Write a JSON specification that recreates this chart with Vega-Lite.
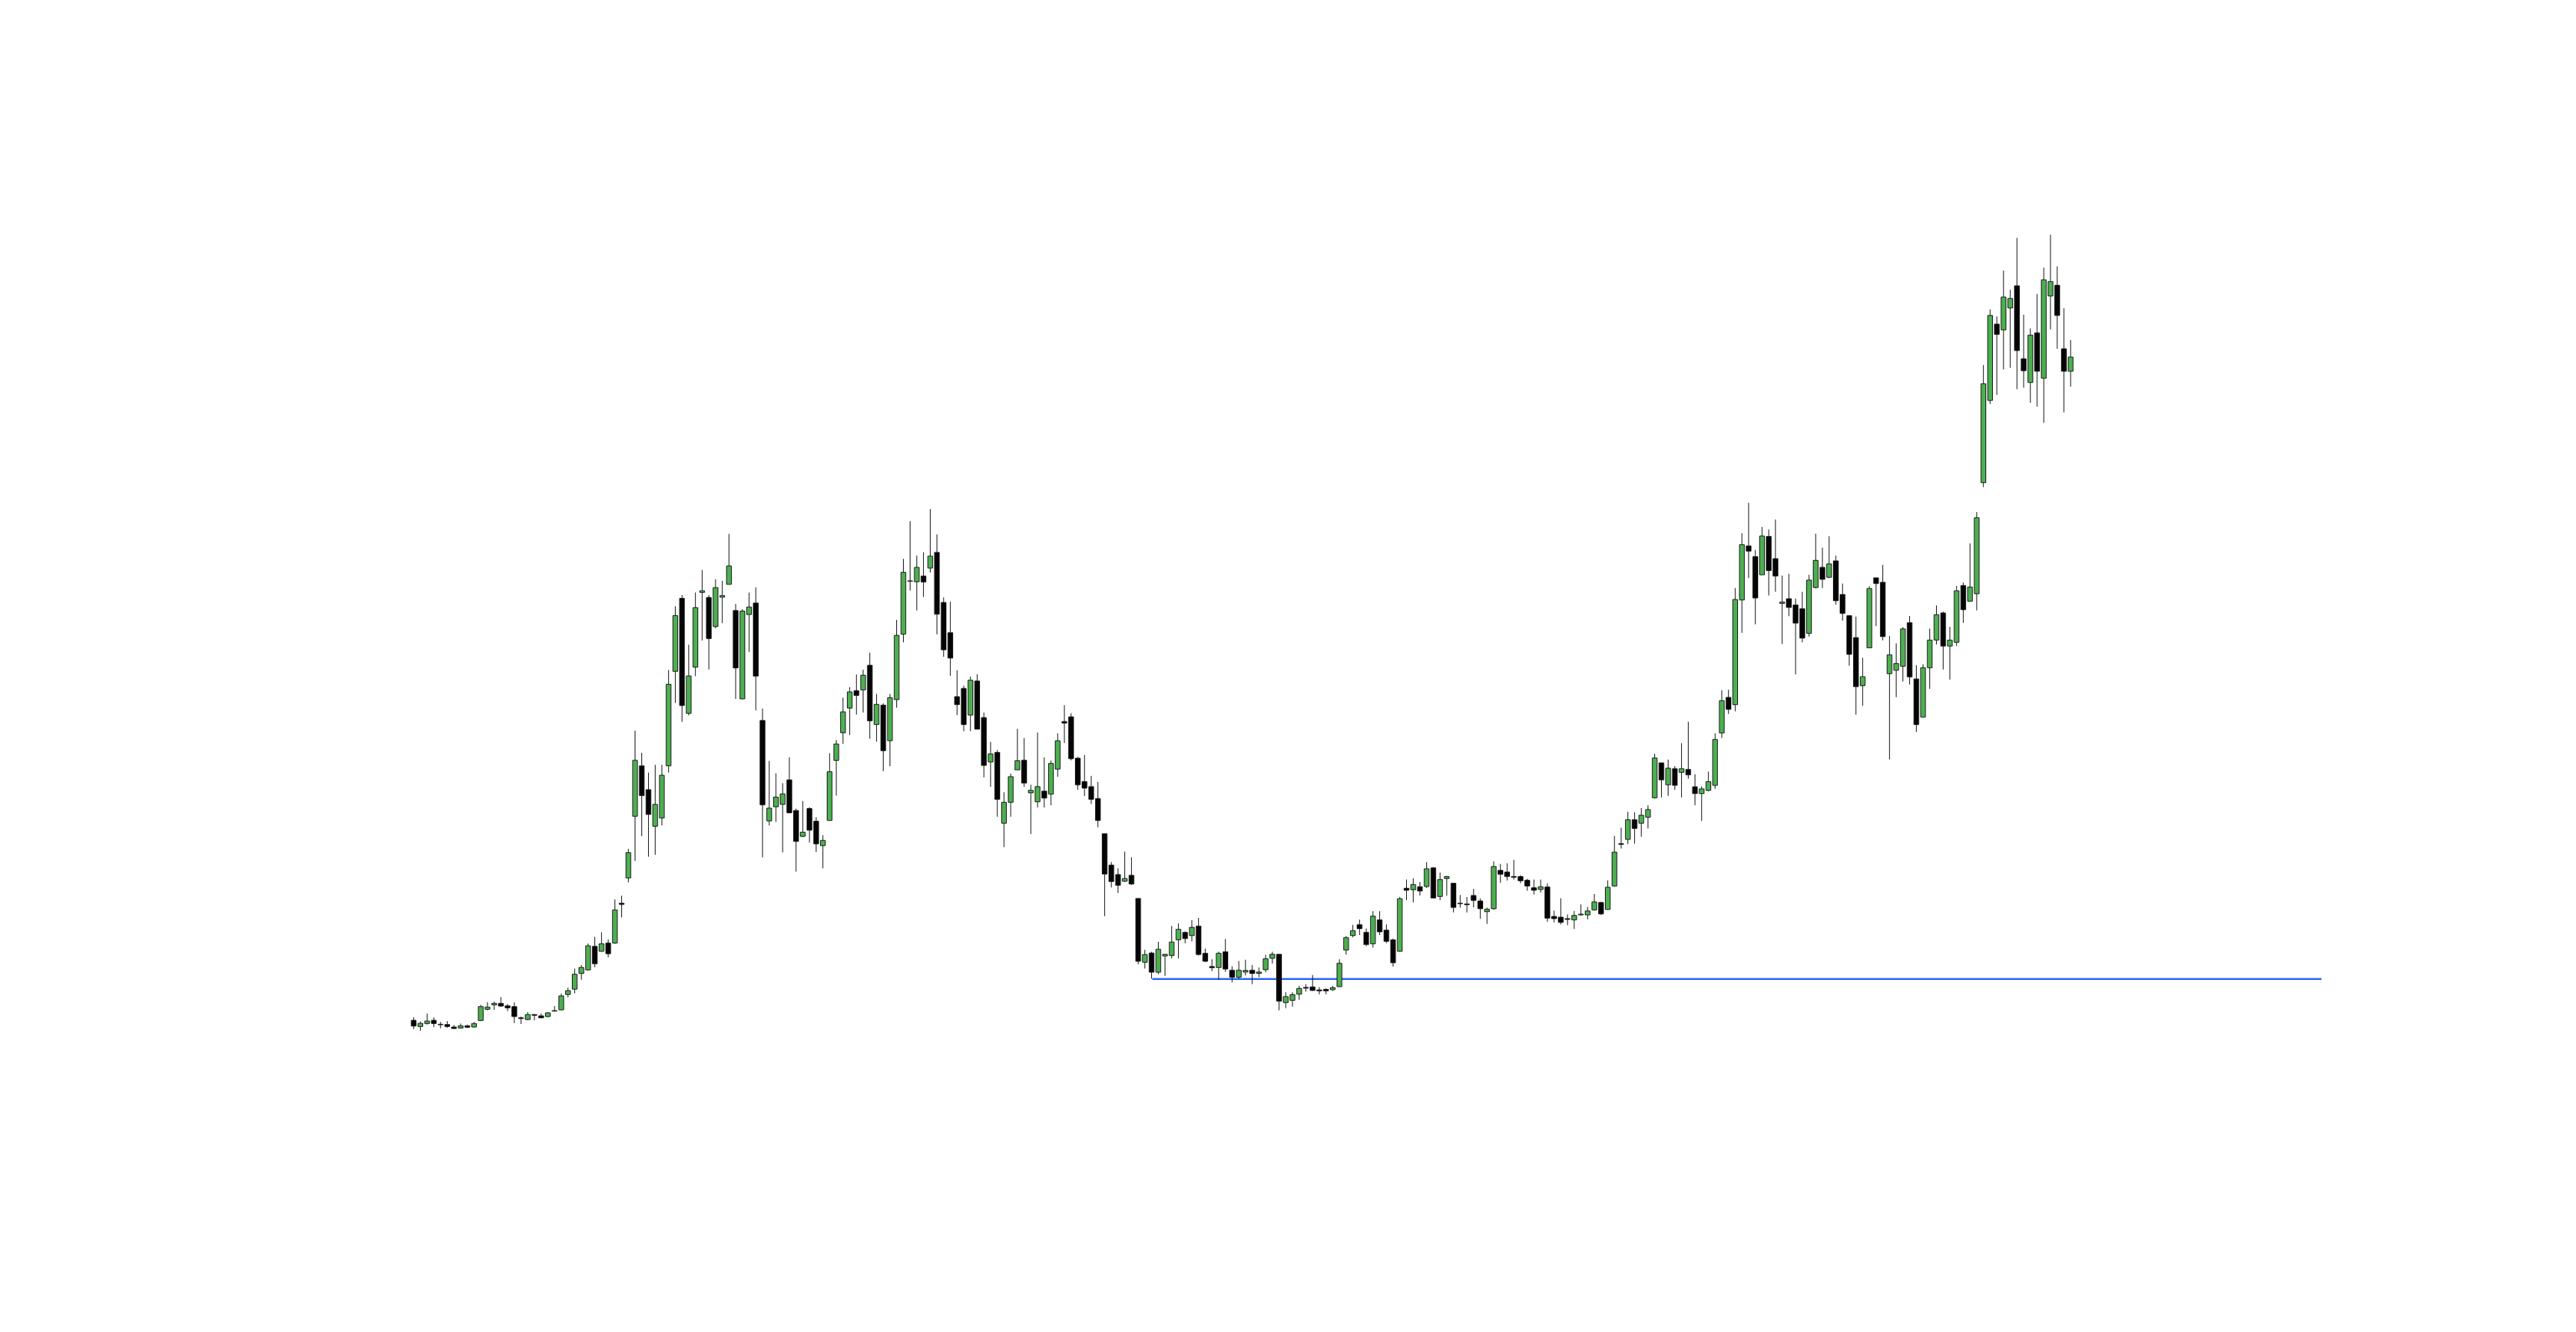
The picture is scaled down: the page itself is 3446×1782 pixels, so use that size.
{
"$schema": "https://vega.github.io/schema/vega-lite/v6.json",
"width": 3446, "height": 1782, "autosize": {"type": "none"}, "padding": 0,
"background": "white",
"config": {"view": {"stroke": null}},
"datasets": {
"candles": [
{"i":0,"o":35,"h":39,"l":23.3,"c":27.3},{"i":1,"o":26.7,"h":33.3,"l":21,"c":31},{"i":2,"o":30.7,"h":44,"l":29.3,"c":34},{"i":3,"o":35,"h":39,"l":26,"c":30.7},{"i":4,"o":29.7,"h":32.7,"l":24.3,"c":29},{"i":5,"o":29.3,"h":34,"l":25,"c":26.7},{"i":6,"o":26,"h":28.7,"l":23.3,"c":24},{"i":7,"o":24.7,"h":30.7,"l":24,"c":27.7},{"i":8,"o":27.7,"h":29,"l":24.7,"c":25.7},{"i":9,"o":26,"h":32.7,"l":25.3,"c":30.7},
{"i":10,"o":34.7,"h":55.7,"l":34,"c":53.3},{"i":11,"o":49.7,"h":59.3,"l":48.3,"c":52.7},{"i":12,"o":55.7,"h":60,"l":49,"c":57.7},{"i":13,"o":57.7,"h":66,"l":53.3,"c":54},{"i":14,"o":54.3,"h":56.7,"l":47.3,"c":51.7},{"i":15,"o":53.3,"h":59,"l":31.3,"c":40},{"i":16,"o":38.3,"h":40,"l":30,"c":37.3},{"i":17,"o":36,"h":46,"l":35,"c":42.7},{"i":18,"o":42.7,"h":43.3,"l":35,"c":41.7},{"i":19,"o":41,"h":44,"l":37.7,"c":38.3},
{"i":20,"o":40,"h":46,"l":39,"c":45},{"i":21,"o":47.3,"h":54,"l":46.7,"c":48},{"i":22,"o":49,"h":70.7,"l":48.3,"c":67.7},{"i":23,"o":69.7,"h":78.7,"l":65.7,"c":74.7},{"i":24,"o":76.7,"h":104.3,"l":71,"c":96.7},{"i":25,"o":97.7,"h":109,"l":89.3,"c":105.7},{"i":26,"o":102.3,"h":137.7,"l":101.7,"c":134.7},{"i":27,"o":134,"h":146.7,"l":106,"c":110.7},{"i":28,"o":127.3,"h":152.7,"l":126.7,"c":137.3},{"i":29,"o":138.3,"h":143.3,"l":119.3,"c":124},
{"i":30,"o":138.3,"h":196.7,"l":137.3,"c":182.7},{"i":31,"o":191.7,"h":201.7,"l":172.7,"c":190},{"i":32,"o":225.4,"h":264.3,"l":219.6,"c":259.3},{"i":33,"o":307.9,"h":422.5,"l":248.2,"c":382.9},{"i":34,"o":375.4,"h":392.9,"l":281.4,"c":335.7},{"i":35,"o":343.6,"h":366.4,"l":253.9,"c":310.4},{"i":36,"o":294.6,"h":376.8,"l":256.4,"c":323.9},{"i":37,"o":305.7,"h":376.8,"l":295.7,"c":362.9},{"i":38,"o":375.4,"h":503.6,"l":366.4,"c":484.6},{"i":39,"o":501.8,"h":588.9,"l":459.6,"c":576.4},
{"i":40,"o":599.6,"h":603.9,"l":434.3,"c":456.1},{"i":41,"o":445.7,"h":537.5,"l":442.9,"c":495.7},{"i":42,"o":507.5,"h":607.5,"l":495.4,"c":587.1},{"i":43,"o":607.5,"h":637.5,"l":543.2,"c":609.6},{"i":44,"o":600.7,"h":603.9,"l":504.3,"c":545.7},{"i":45,"o":561.8,"h":625,"l":559.3,"c":613.9},{"i":46,"o":601.1,"h":622.9,"l":566.4,"c":603.2},{"i":47,"o":618.2,"h":685.7,"l":618.2,"c":642.9},{"i":48,"o":583.2,"h":592.1,"l":465,"c":506.4},{"i":49,"o":465,"h":585,"l":465,"c":582.5},
{"i":50,"o":577.9,"h":607.1,"l":527.9,"c":587.9},{"i":51,"o":593.2,"h":614.3,"l":449.6,"c":495.4},{"i":52,"o":436.1,"h":452.1,"l":252.9,"c":323.2},{"i":53,"o":301.8,"h":382.1,"l":295.7,"c":318.9},{"i":54,"o":320.7,"h":365.4,"l":300.4,"c":333.6},{"i":55,"o":323.9,"h":352.1,"l":259.6,"c":337.9},{"i":56,"o":356.7,"h":386.7,"l":311.7,"c":312.7},{"i":57,"o":315.7,"h":318.3,"l":234,"c":274.3},{"i":58,"o":281,"h":328.3,"l":280,"c":286.7},{"i":59,"o":318.3,"h":320,"l":272.7,"c":289.3},
{"i":60,"o":301.3,"h":306.7,"l":260,"c":271},{"i":61,"o":268.7,"h":282.7,"l":238.3,"c":275.7},{"i":62,"o":302.3,"h":392.3,"l":302.3,"c":367.7},{"i":63,"o":382.7,"h":410,"l":335.7,"c":404.7},{"i":64,"o":419.7,"h":466.7,"l":404.7,"c":447.7},{"i":65,"o":452.7,"h":480.7,"l":416.7,"c":474.3},{"i":66,"o":476,"h":497.7,"l":444,"c":469.7},{"i":67,"o":477,"h":504,"l":446.7,"c":496.7},{"i":68,"o":510,"h":526.7,"l":411.7,"c":435.7},{"i":69,"o":430.7,"h":471.7,"l":407.7,"c":457.7},
{"i":70,"o":456.7,"h":459,"l":368.3,"c":395.7},{"i":71,"o":409,"h":471.7,"l":375,"c":466.7},{"i":72,"o":464,"h":570.7,"l":453.3,"c":550},{"i":73,"o":551.7,"h":652.3,"l":540.7,"c":634.3},{"i":74,"o":622.3,"h":702.7,"l":610,"c":623},{"i":75,"o":621.7,"h":656.7,"l":583.3,"c":641},{"i":76,"o":629.3,"h":661.3,"l":601.3,"c":621.3},{"i":77,"o":640,"h":719,"l":634,"c":656},{"i":78,"o":661,"h":685,"l":551.3,"c":578.3},{"i":79,"o":594,"h":600.7,"l":521.3,"c":530.7},
{"i":80,"o":553.7,"h":595,"l":496,"c":519.7},{"i":81,"o":468,"h":503.3,"l":443.3,"c":457.3},{"i":82,"o":479,"h":482.7,"l":421.7,"c":430.7},{"i":83,"o":443.3,"h":495,"l":421.7,"c":490},{"i":84,"o":489,"h":498,"l":424,"c":424.5},{"i":85,"o":440,"h":446.7,"l":360,"c":376},{"i":86,"o":380.7,"h":407.3,"l":347.3,"c":391.3},{"i":87,"o":393.3,"h":396.7,"l":307.3,"c":330.7},{"i":88,"o":298.7,"h":340,"l":266.7,"c":326.7},{"i":89,"o":326.7,"h":365,"l":307.3,"c":361},
{"i":90,"o":370,"h":425,"l":370,"c":382.3},{"i":91,"o":383,"h":412.7,"l":347.3,"c":352.3},{"i":92,"o":339.3,"h":350.3,"l":284.3,"c":342.7},{"i":93,"o":327.3,"h":420,"l":319.7,"c":347.7},{"i":94,"o":341.7,"h":386.7,"l":319.7,"c":332.3},{"i":95,"o":337.7,"h":382.7,"l":322.7,"c":378.7},{"i":96,"o":371,"h":419,"l":360.7,"c":409},{"i":97,"o":434.7,"h":456.7,"l":406,"c":432.7},{"i":98,"o":441,"h":445.7,"l":382.7,"c":385},{"i":99,"o":385.7,"h":387.3,"l":343.3,"c":350},
{"i":100,"o":354.3,"h":390,"l":335,"c":345.7},{"i":101,"o":347.7,"h":362,"l":324.3,"c":330.7},{"i":102,"o":331.7,"h":354,"l":293.3,"c":302.3},{"i":103,"o":284.7,"h":284.7,"l":174.3,"c":230.7},{"i":104,"o":242.7,"h":246.7,"l":212.7,"c":220.7},{"i":105,"o":230,"h":238.3,"l":205.3,"c":215.7},{"i":106,"o":221,"h":260.7,"l":220,"c":224.7},{"i":107,"o":229,"h":253,"l":216,"c":217.3},{"i":108,"o":198,"h":198,"l":110,"c":114},{"i":109,"o":112.7,"h":129.3,"l":104.3,"c":123},
{"i":110,"o":125,"h":126.7,"l":90.7,"c":99.3},{"i":111,"o":99.3,"h":140,"l":96.7,"c":130},{"i":112,"o":121,"h":123.3,"l":94.3,"c":123.3},{"i":113,"o":121.7,"h":161.3,"l":117.7,"c":139.7},{"i":114,"o":142.7,"h":164.7,"l":117.7,"c":156.7},{"i":115,"o":152.7,"h":154,"l":138,"c":144.3},{"i":116,"o":148.3,"h":169,"l":140.7,"c":159.3},{"i":117,"o":161,"h":172,"l":121.7,"c":123},{"i":118,"o":124.7,"h":131,"l":112.7,"c":114},{"i":119,"o":107,"h":116.7,"l":100.7,"c":105.3},
{"i":120,"o":105.7,"h":126.7,"l":89.3,"c":124.7},{"i":121,"o":126.7,"h":143.7,"l":100,"c":103.7},{"i":122,"o":102,"h":107.3,"l":85.7,"c":92.7},{"i":123,"o":92.7,"h":114.3,"l":90.7,"c":102},{"i":124,"o":99.7,"h":116,"l":95,"c":101.7},{"i":125,"o":102,"h":109,"l":83.3,"c":97.7},{"i":126,"o":97.7,"h":105.7,"l":92.7,"c":99.7},{"i":127,"o":102.7,"h":122.7,"l":99.3,"c":117.3},{"i":128,"o":118,"h":126.7,"l":111,"c":123.3},{"i":129,"o":123.3,"h":123.3,"l":48.3,"c":60.7},
{"i":130,"o":58.7,"h":72.7,"l":51.3,"c":66.7},{"i":131,"o":61.7,"h":72.7,"l":53.3,"c":69.3},{"i":132,"o":70,"h":81,"l":62.3,"c":77.7},{"i":133,"o":79,"h":83.3,"l":73.3,"c":78},{"i":134,"o":79.7,"h":95.7,"l":74.3,"c":75},{"i":135,"o":75.7,"h":79.3,"l":69.7,"c":74.3},{"i":136,"o":76.3,"h":77.7,"l":69.7,"c":74.3},{"i":137,"o":76,"h":81,"l":74.3,"c":78.7},{"i":138,"o":80,"h":116.7,"l":80,"c":111.3},{"i":139,"o":129,"h":147.7,"l":122.7,"c":145.7},
{"i":140,"o":148.3,"h":162.7,"l":146,"c":155},{"i":141,"o":163,"h":169.7,"l":149,"c":157.7},{"i":142,"o":152.7,"h":157.7,"l":134.3,"c":136.3},{"i":143,"o":137.3,"h":181,"l":132.3,"c":174.3},{"i":144,"o":169.3,"h":181,"l":149,"c":153.3},{"i":145,"o":155.7,"h":163.3,"l":138.3,"c":140.7},{"i":146,"o":142.7,"h":144.3,"l":106.7,"c":112},{"i":147,"o":127.3,"h":200,"l":126.7,"c":197.7},{"i":148,"o":211.7,"h":223.3,"l":195.7,"c":209},{"i":149,"o":209.7,"h":225,"l":192.7,"c":216.7},
{"i":150,"o":213.7,"h":220,"l":202,"c":208},{"i":151,"o":214,"h":246.7,"l":212,"c":237.7},{"i":152,"o":239,"h":240,"l":198,"c":198.7},{"i":153,"o":200.7,"h":232.7,"l":195.7,"c":223.3},{"i":154,"o":224.7,"h":228.3,"l":201.7,"c":227.3},{"i":155,"o":218.3,"h":218.3,"l":179.3,"c":186},{"i":156,"o":191.7,"h":202.7,"l":185.7,"c":191},{"i":157,"o":190.7,"h":200,"l":179.3,"c":189.7},{"i":158,"o":202,"h":210.7,"l":186,"c":195.3},{"i":159,"o":194.7,"h":198,"l":170.7,"c":184.3},
{"i":160,"o":180.3,"h":185.7,"l":164,"c":183.7},{"i":161,"o":184.3,"h":247.7,"l":182.7,"c":240.7},{"i":162,"o":235.7,"h":244.3,"l":219,"c":230.3},{"i":163,"o":233.3,"h":245,"l":222,"c":227.3},{"i":164,"o":227.3,"h":249.7,"l":223.3,"c":226.3},{"i":165,"o":227.3,"h":229,"l":218.3,"c":221.7},{"i":166,"o":222.3,"h":224.3,"l":208.3,"c":214.7},{"i":167,"o":212.3,"h":223.3,"l":203.3,"c":209},{"i":168,"o":210,"h":223.3,"l":205.7,"c":213.7},{"i":169,"o":213.3,"h":218.3,"l":166.7,"c":171.7},
{"i":170,"o":174,"h":181.7,"l":166,"c":171},{"i":171,"o":173,"h":198.3,"l":163.3,"c":166},{"i":172,"o":171,"h":176.7,"l":162.3,"c":170},{"i":173,"o":169.3,"h":181.3,"l":157.3,"c":175.3},{"i":174,"o":176,"h":190,"l":175,"c":177},{"i":175,"o":176,"h":186.7,"l":170,"c":181.3},{"i":176,"o":182.7,"h":204,"l":181.7,"c":193.3},{"i":177,"o":192.7,"h":193.3,"l":176,"c":177.3},{"i":178,"o":183.3,"h":222.3,"l":182.7,"c":213},{"i":179,"o":214.7,"h":281.7,"l":214,"c":260},
{"i":180,"o":271.3,"h":292.7,"l":264.7,"c":270.3},{"i":181,"o":277,"h":314,"l":270.7,"c":303.3},{"i":182,"o":303.3,"h":313.3,"l":271.3,"c":291.7},{"i":183,"o":298.7,"h":319,"l":280.7,"c":309.3},{"i":184,"o":306.7,"h":322.7,"l":291.7,"c":317},{"i":185,"o":332.7,"h":391.7,"l":331.7,"c":386},{"i":186,"o":379.3,"h":379.3,"l":333.3,"c":356.7},{"i":187,"o":350,"h":383.7,"l":335.3,"c":372.3},{"i":188,"o":371.7,"h":375,"l":343.3,"c":349.3},{"i":189,"o":366.7,"h":405.7,"l":333.3,"c":371.7},
{"i":190,"o":370.7,"h":434.3,"l":358.3,"c":363.3},{"i":191,"o":347.3,"h":364,"l":322.7,"c":338.3},{"i":192,"o":338.3,"h":348,"l":301.7,"c":344.7},{"i":193,"o":342.7,"h":367.7,"l":341.3,"c":354.3},{"i":194,"o":349.3,"h":419,"l":344.7,"c":410.7},{"i":195,"o":419.3,"h":476.7,"l":412.7,"c":462.7},{"i":196,"o":467,"h":477.3,"l":445,"c":451},{"i":197,"o":457.3,"h":613.3,"l":448.3,"c":598},{"i":198,"o":597.3,"h":686.7,"l":553.3,"c":671.3},{"i":199,"o":669.7,"h":727.3,"l":626.7,"c":662.7},
{"i":200,"o":655.3,"h":664.3,"l":564.7,"c":600},{"i":201,"o":631,"h":695,"l":631,"c":683},{"i":202,"o":682.3,"h":691.7,"l":603.3,"c":636.7},{"i":203,"o":652.7,"h":705,"l":608.3,"c":629.3},{"i":204,"o":592.7,"h":630,"l":538.3,"c":594.7},{"i":205,"o":599,"h":632.3,"l":575.7,"c":587.3},{"i":206,"o":590.7,"h":599.3,"l":497.7,"c":566.3},{"i":207,"o":585.7,"h":608.3,"l":540.7,"c":546.3},{"i":208,"o":552.7,"h":631,"l":548.3,"c":624},{"i":209,"o":614,"h":686,"l":612.7,"c":650.3},
{"i":210,"o":641,"h":667.3,"l":613.3,"c":625},{"i":211,"o":627.7,"h":682.7,"l":626.7,"c":645.7},{"i":212,"o":649.7,"h":656.7,"l":591,"c":596.3},{"i":213,"o":604.7,"h":619.3,"l":569.7,"c":579.3},{"i":214,"o":576.3,"h":576.7,"l":509.3,"c":524.7},{"i":215,"o":547,"h":575,"l":444,"c":481.3},{"i":216,"o":482.7,"h":520,"l":455.7,"c":494.7},{"i":217,"o":533.3,"h":615.7,"l":533.3,"c":612.7},{"i":218,"o":627,"h":627,"l":562.3,"c":619.3},{"i":219,"o":621,"h":644.3,"l":543.3,"c":548.3},
{"i":220,"o":498.7,"h":549,"l":384,"c":524},{"i":221,"o":503.3,"h":539.3,"l":467.3,"c":512.3},{"i":222,"o":508.7,"h":561,"l":488.3,"c":558.7},{"i":223,"o":567,"h":576,"l":484.3,"c":494.3},{"i":224,"o":491.7,"h":510,"l":420.7,"c":430.7},{"i":225,"o":440.7,"h":511.3,"l":440.7,"c":506.7},{"i":226,"o":506.7,"h":559,"l":478.3,"c":543.7},{"i":227,"o":543.7,"h":590,"l":537.7,"c":577.7},{"i":228,"o":580,"h":581.7,"l":504.3,"c":535.7},{"i":229,"o":535.7,"h":561.3,"l":490.7,"c":543.7},
{"i":230,"o":540.7,"h":616,"l":535.7,"c":609.7},{"i":231,"o":616.7,"h":620.7,"l":566.7,"c":584.3},{"i":232,"o":595.7,"h":673,"l":595.7,"c":614.7},{"i":233,"o":605.7,"h":715,"l":583.3,"c":707.3},{"i":234,"o":754.3,"h":911.7,"l":748.3,"c":886.7},{"i":235,"o":864.3,"h":986,"l":859.7,"c":978},{"i":236,"o":966.3,"h":976.7,"l":871.7,"c":952.7},{"i":237,"o":958.7,"h":1038,"l":905.7,"c":1002.7},{"i":238,"o":988,"h":1012.3,"l":908,"c":1000.7},{"i":239,"o":1017.7,"h":1081.7,"l":879.3,"c":931},
{"i":240,"o":920,"h":979,"l":881.3,"c":904},{"i":241,"o":888.3,"h":960.7,"l":861,"c":951.7},{"i":242,"o":954.7,"h":1006.7,"l":856,"c":903.3},{"i":243,"o":894,"h":1042,"l":834.3,"c":1025.7},{"i":244,"o":1004,"h":1086,"l":959.3,"c":1023.3},{"i":245,"o":1018.3,"h":1043.7,"l":933.3,"c":978},{"i":246,"o":933.3,"h":987.7,"l":848.3,"c":903.3},{"i":247,"o":903.3,"h":945,"l":882.7,"c":922.3}
],
"level": [{"start": 110.1, "end": 284.4, "price": 90.3}]
},
"layer": [
{
"data": {"name": "level"},
"mark": {"type": "rule", "color": "#2962FF", "strokeWidth": 2.5},
"encoding": {
"x": {"field": "start", "type": "quantitative", "scale": {"domain": [-61.11, 321.78], "nice": false, "zero": false}, "axis": null},
"x2": {"field": "end"},
"y": {"field": "price", "type": "quantitative", "scale": {"domain": [-382, 1400], "nice": false, "zero": false}, "axis": null}
}
},
{
"data": {"name": "candles"},
"mark": {"type": "rule", "color": "#111111", "strokeWidth": 1},
"encoding": {
"x": {"field": "i", "type": "quantitative", "scale": {"domain": [-61.11, 321.78], "nice": false, "zero": false}, "axis": null},
"y": {"field": "l", "type": "quantitative", "scale": {"domain": [-382, 1400], "nice": false, "zero": false}, "axis": null},
"y2": {"field": "h"}
}
},
{
"data": {"name": "candles"},
"mark": {"type": "bar", "width": 6.5, "stroke": "#1a1a1a", "strokeWidth": 1},
"encoding": {
"x": {"field": "i", "type": "quantitative", "scale": {"domain": [-61.11, 321.78], "nice": false, "zero": false}, "axis": null},
"y": {"field": "o", "type": "quantitative", "scale": {"domain": [-382, 1400], "nice": false, "zero": false}, "axis": null},
"y2": {"field": "c"},
"fill": {"condition": {"test": "datum.c >= datum.o", "value": "#4CAF50"}, "value": "#050505"}
}
}
]
}
